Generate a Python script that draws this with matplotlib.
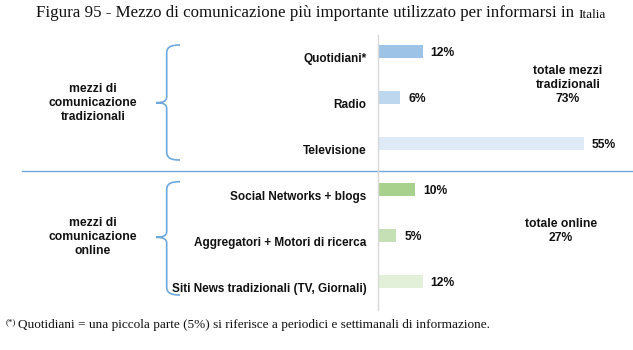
import matplotlib
matplotlib.use("Agg")
import matplotlib.pyplot as plt
from matplotlib.path import Path
from matplotlib.patches import PathPatch
from matplotlib.transforms import offset_copy

plt.rcParams['font.family'] = ['Liberation Sans', 'DejaVu Sans']

# media and share of people using each one as main news source (%)
categories = ["Quotidiani*", "Radio", "Televisione",
              "Social Networks + blogs", "Aggregatori + Motori di ricerca",
              "Siti News tradizionali (TV, Giornali)"]
values = [12, 6, 55, 10, 5, 12]
colors = ["#9dc3e6", "#bdd7ee", "#deebf7", "#a9d18e", "#c5e0b4", "#e2f0d9"]

group_names = ["mezzi di\ncomunicazione\ntradizionali", "mezzi di\ncomunicazione\nonline"]
group_totals = ["totale mezzi\ntradizionali\n73%", "totale online\n27%"]

title_main = "Figura 95 - Mezzo di comunicazione più importante utilizzato per informarsi in"
title_tail = "Italia"
footnote = "Quotidiani = una piccola parte (5%) si riferisce a periodici e settimanali di informazione."

W, H = 633, 350
fig = plt.figure(figsize=(W / 100, H / 100), dpi=100)

# overlay in pixel coordinates for braces, separators and free text
ov = fig.add_axes([0, 0, 1, 1])
ov.set_xlim(0, W)
ov.set_ylim(H, 0)
ov.axis("off")

# bar panel
x0, y_top, y_bot = 377.7, 35, 310
ax = fig.add_axes([x0 / W, (H - y_bot) / H, (W - x0) / W, (y_bot - y_top) / H])
step = 45.9
ypos = list(range(len(categories)))
ax.barh(ypos, values, height=13 / step, color=colors, edgecolor="none")
ax.set_xlim(0, (W - x0) / 3.75)
ax.set_ylim(5 + (y_bot - 281.3) / step, -(51.7 - y_top) / step)
ax.set_xticks([])
ax.set_yticks([])
for s in ["top", "right", "bottom"]:
    ax.spines[s].set_visible(False)
ax.spines["left"].set_color("#d9d9d9")
ax.spines["left"].set_linewidth(1.0)
ax.patch.set_alpha(0)

lab_tr = offset_copy(ax.transData, fig, x=-11, y=-7.5, units="dots")
for y, c in zip(ypos, categories):
    ax.text(0, y, c, transform=lab_tr, ha="right", va="center",
            fontsize=8.5, fontweight="bold", color="#111111", clip_on=False)

val_tr = offset_copy(ax.transData, fig, x=8, y=-1.5, units="dots")
for y, v in zip(ypos, values):
    ax.text(v, y, f"{v}%", transform=val_tr, ha="left", va="center",
            fontsize=8.7, fontweight="bold", color="#111111", clip_on=False)

# group labels and totals
for (cx, cy), t in zip([(93, 103), (93, 237)], group_names):
    ov.text(cx, cy, t, ha="center", va="center", fontsize=8.7,
            fontweight="bold", color="#111111", linespacing=1.2)
for (cx, cy), t in zip([(568, 85), (561, 231)], group_totals):
    ov.text(cx, cy, t, ha="center", va="center", fontsize=8.7,
            fontweight="bold", color="#111111", linespacing=1.2)


def brace(top, mid, bot, xv=166.7, tip=156, end=180):
    verts = [(end, top), (171, top), (xv, top + 2), (xv, top + 8),
             (xv, mid - 6),
             (xv, mid - 1), (162, mid), (tip, mid),
             (162, mid), (xv, mid + 1), (xv, mid + 6),
             (xv, bot - 8),
             (xv, bot - 2), (171, bot), (end, bot)]
    codes = [Path.MOVETO, Path.CURVE4, Path.CURVE4, Path.CURVE4,
             Path.LINETO,
             Path.CURVE4, Path.CURVE4, Path.CURVE4,
             Path.CURVE4, Path.CURVE4, Path.CURVE4,
             Path.LINETO,
             Path.CURVE4, Path.CURVE4, Path.CURVE4]
    ov.add_patch(PathPatch(Path(verts, codes), fill=False,
                           edgecolor="#6fa8dc", linewidth=1.2))


brace(45, 102.7, 160)
brace(181.7, 237.3, 295)

# separator between the two groups
ov.plot([22, W], [170.5, 170.5], color="#6fa8dc", linewidth=1.0)

# title, with the country name in a smaller size
t1 = ov.text(36, 17, title_main, ha="left", va="baseline",
             fontsize=12.2, family="Liberation Serif", color="#111111")
ov.annotate(title_tail, xy=(1, 0), xycoords=t1, xytext=(3, 0),
            textcoords="offset points", ha="left", va="bottom",
            fontsize=9.5, family="Liberation Serif", color="#111111")

# footnote
ov.text(6, 324, "(*)", ha="left", va="baseline", fontsize=6.5,
        family="Liberation Serif", color="#111111")
ov.text(18, 328, footnote, ha="left", va="baseline", fontsize=9.5,
        family="Liberation Serif", color="#111111")

fig.savefig("out.png", dpi=100)
